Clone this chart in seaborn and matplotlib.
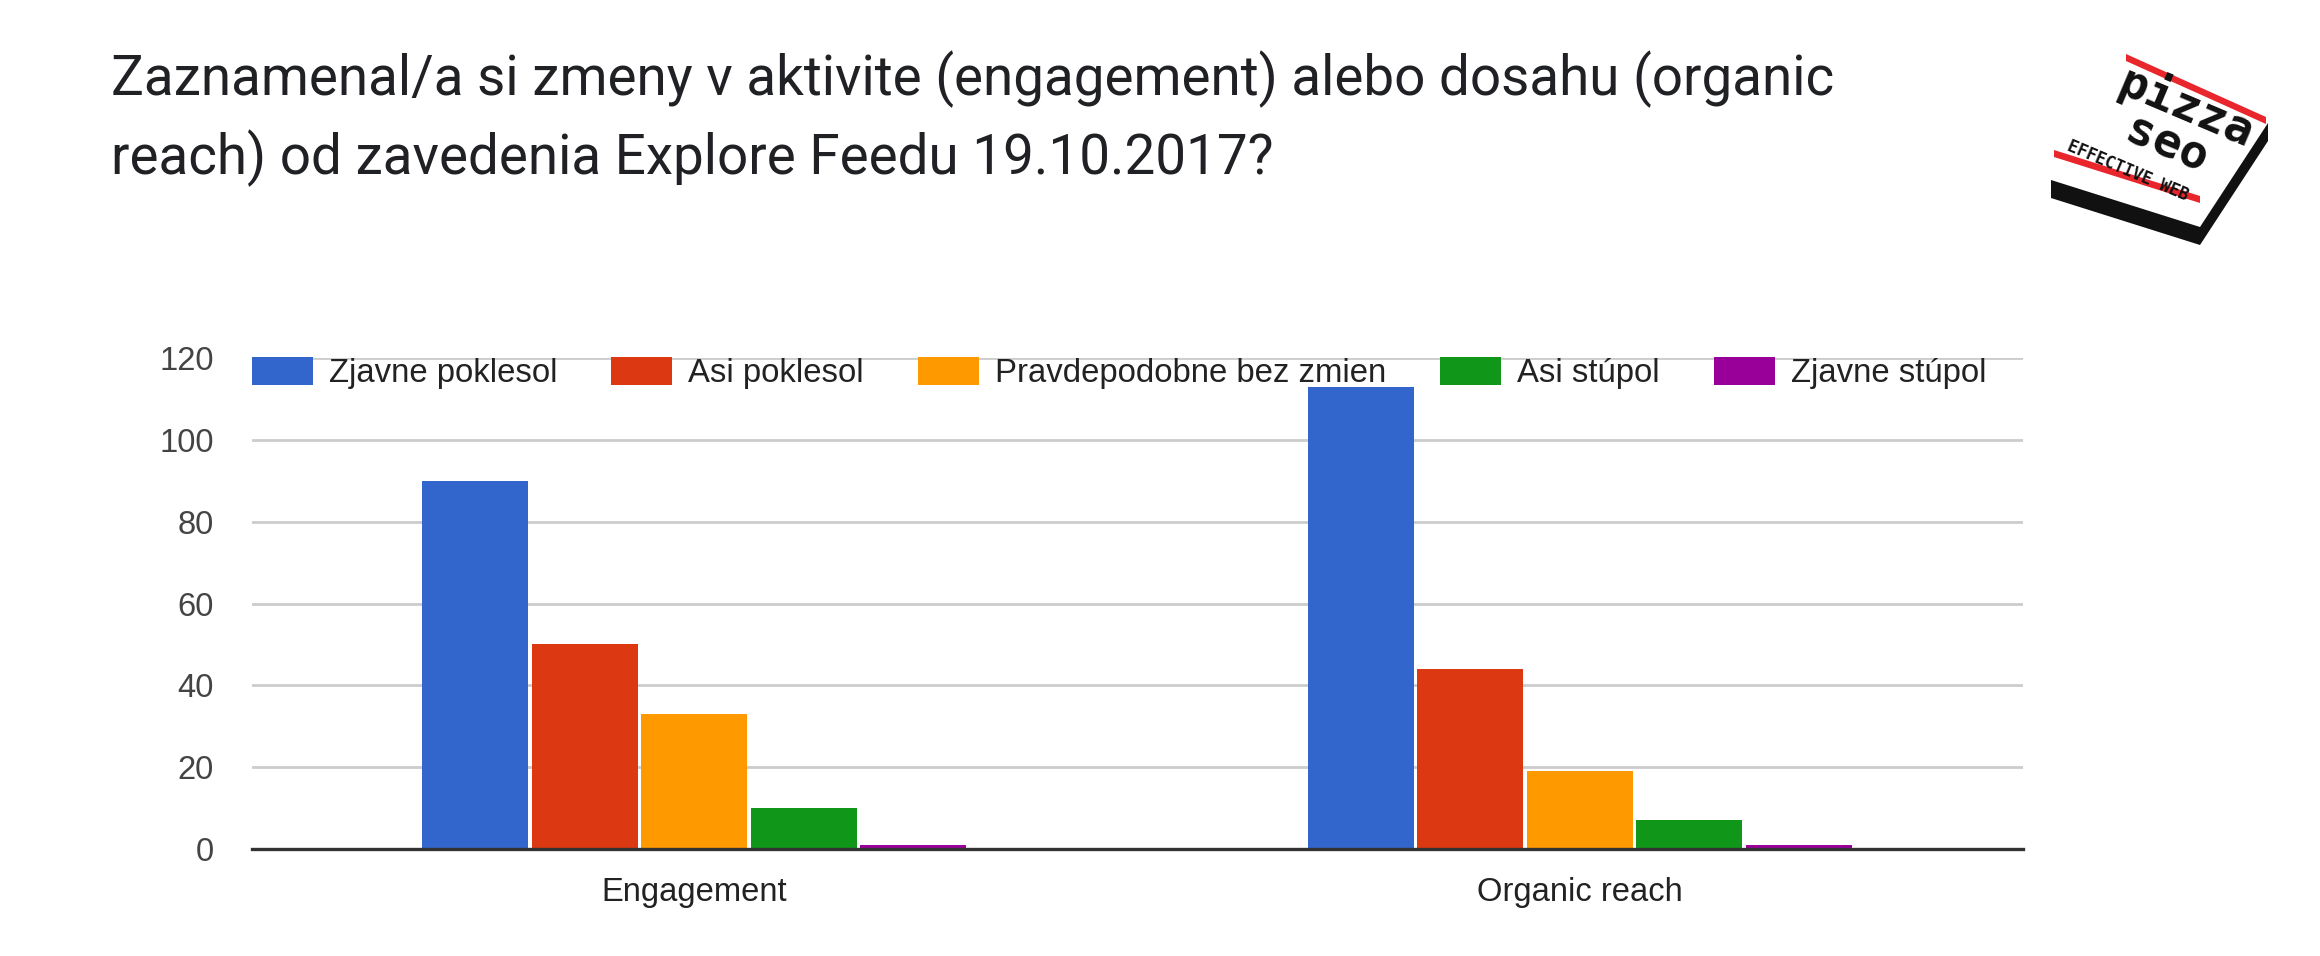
import numpy as np
import pandas as pd
import matplotlib
matplotlib.use("Agg")
import matplotlib.pyplot as plt
from matplotlib.patches import Rectangle, Polygon
import seaborn as sns

# ---------------------------------------------------------------------------
# Data
# ---------------------------------------------------------------------------
categories = ["Engagement", "Organic reach"]
responses = ["Zjavne poklesol", "Asi poklesol", "Pravdepodobne bez zmien",
             "Asi stúpol", "Zjavne stúpol"]
engagement = [90, 50, 33, 10, 1]
organic_reach = [113, 44, 19, 7, 1]
y_ticks = [0, 20, 40, 60, 80, 100, 120]
colors = ["#3366CC", "#DC3912", "#FF9900", "#109618", "#990099"]
title = ("Zaznamenal/a si zmeny v aktivite (engagement) alebo dosahu (organic\n"
         "reach) od zavedenia Explore Feedu 19.10.2017?")

df = pd.DataFrame({
    "category": np.repeat(categories, len(responses)),
    "response": responses * len(categories),
    "count": engagement + organic_reach,
})

sns.set_theme(style="white")
plt.rcParams["font.family"] = ["Liberation Sans", "DejaVu Sans"]

W, H = 2320, 956
fig = plt.figure(figsize=(W / 100, H / 100), dpi=100)
fig.patch.set_facecolor("white")

# axes area in pixels: x 251.5..2022.6, y 358..849
ax = fig.add_axes([251.5 / W, 1 - 849 / H, (2022.6 - 251.5) / W, (849 - 358) / H])

sns.barplot(data=df, x="category", y="count", hue="response",
            order=categories, hue_order=responses, palette=colors,
            saturation=1, width=0.618, gap=0.03, linewidth=0,
            legend=False, ax=ax, zorder=3)

ax.set_xlim(-0.5, 1.5)
ax.set_ylim(0, 120)
ax.set_yticks(y_ticks)
ax.set_xlabel("")
ax.set_ylabel("")
ax.yaxis.grid(True, color="#cccccc", linewidth=2.0, zorder=0)
ax.set_axisbelow(True)
for side in ["top", "right", "left"]:
    ax.spines[side].set_visible(False)
ax.spines["bottom"].set_color("#333333")
ax.spines["bottom"].set_linewidth(2.4)
ax.spines["bottom"].set_zorder(4)
ax.tick_params(axis="y", length=0, pad=27, labelsize=23.6, labelcolor="#444444")
ax.tick_params(axis="x", length=0, pad=20, labelsize=23.6, labelcolor="#222222")

# legend along the top of the plot area
handles = [Rectangle((0, 0), 1, 1, facecolor=c, edgecolor="none") for c in colors]
fig.legend(handles, responses, ncol=5, loc="center left",
           bbox_to_anchor=(251.5 / W, 1 - 373 / H), bbox_transform=fig.transFigure,
           frameon=False, fontsize=23.7, labelcolor="#222222",
           handlelength=1.86, handleheight=0.92, handletextpad=0.48,
           columnspacing=1.64, borderpad=0, borderaxespad=0)

# title
fig.text(111 / W, 1 - 50 / H, title, fontsize=39.4, family=["Roboto", "DejaVu Sans"],
         color="#202124", ha="left", va="top", linespacing=1.5)

# ---------------------------------------------------------------------------
# Logo (rough sketch of the pizza SEO badge)
# ---------------------------------------------------------------------------
lx0, lx1, ly0, ly1 = 2030, 2290, 40, 260
lax = fig.add_axes([lx0 / W, 1 - ly1 / H, (lx1 - lx0) / W, (ly1 - ly0) / H])
lax.set_xlim(lx0, lx1)
lax.set_ylim(ly1, ly0)
lax.axis("off")
base = [(2051, 180), (2200, 227), (2268, 123), (2268, 141), (2200, 245), (2051, 198)]
lax.add_patch(Polygon(base, closed=True, facecolor="#111111", edgecolor="none"))
lax.add_patch(Polygon([(2126, 54), (2266, 117), (2266, 124), (2126, 61)],
                      closed=True, facecolor="#e8262b", edgecolor="none"))
lax.add_patch(Polygon([(2054, 150), (2200, 196), (2200, 203), (2054, 157)],
                      closed=True, facecolor="#e8262b", edgecolor="none"))
lax.text(2186, 108, "pizza", rotation=-23, fontsize=34, fontweight="bold",
         family="DejaVu Sans Mono", color="#111111", ha="center", va="center",
         rotation_mode="anchor")
lax.text(2166, 146, "seo", rotation=-23, fontsize=34, fontweight="bold",
         family="DejaVu Sans Mono", color="#111111", ha="center", va="center",
         rotation_mode="anchor")
lax.text(2128, 171, "EFFECTIVE WEB", rotation=-23, fontsize=12, fontweight="bold",
         family="DejaVu Sans Mono", color="#111111", ha="center", va="center",
         rotation_mode="anchor")

fig.savefig("out.png", dpi=100)
